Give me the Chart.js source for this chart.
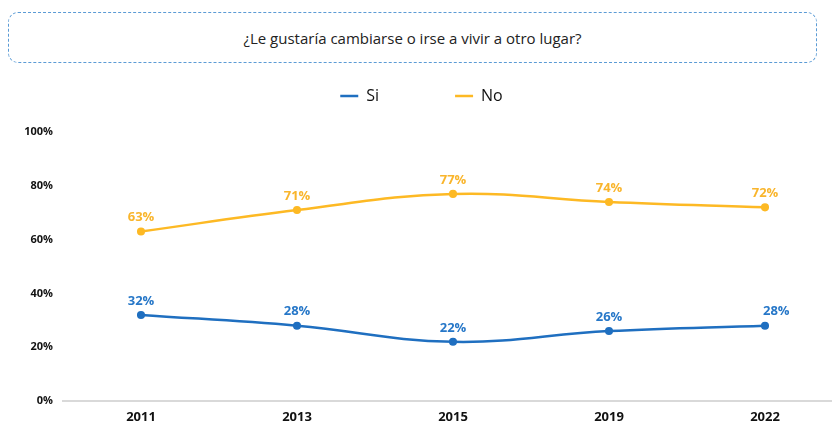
<!DOCTYPE html>
<html>
<head>
<meta charset="utf-8">
<script src="https://cdn.jsdelivr.net/npm/chart.js@4"></script>
<style>
  html, body { margin: 0; padding: 0; background: #fff; overflow: hidden; }
  #wrap { position: relative; width: 832px; height: 424px; overflow: hidden; }
  #box {
    position: absolute; left: 8px; top: 12px; width: 809px; height: 51px;
    border: 1.5px dashed #5b9bd5; border-radius: 10px; box-sizing: border-box;
    display: flex; align-items: center; justify-content: center;
    font-family: "Open Sans", sans-serif; font-size: 15px; color: #222;
  }
  #holder { position: absolute; left: 0; top: 0; width: 850px; height: 424px; }
</style>
</head>
<body>
<div id="wrap">
  <div id="box">¿Le gustaría cambiarse o irse a vivir a otro lugar?</div>
  <div id="holder"><canvas id="myChart"></canvas></div>
</div>
<script>
let years = ["2011", "2013", "2015", "2019", "2022"];
let siValues = [32, 28, 22, 26, 28];
let noValues = [63, 71, 77, 74, 72];
let yTicks = [0, 20, 40, 60, 80, 100];

let blue = "#1f6fc0";
let orange = "#fdb924";

// draws the % labels over each point
let pointLabels = {
  id: "pointLabels",
  afterDatasetsDraw(chart) {
    let ctx = chart.ctx;
    ctx.save();
    ctx.font = "bold 13px 'Open Sans', sans-serif";
    ctx.textBaseline = "middle";
    chart.data.datasets.forEach((ds, i) => {
      let meta = chart.getDatasetMeta(i);
      meta.data.forEach((pt, j) => {
        let last = j == meta.data.length - 1 && i == 0;
        ctx.textAlign = last ? "left" : "center";
        ctx.fillStyle = ds.labelColor;
        ctx.fillText(ds.data[j] + "%", last ? pt.x - 2 : pt.x, pt.y - 14);
      });
    });
    ctx.restore();
  },
};

let myChart = document.getElementById("myChart").getContext("2d");

let indiceChart = new Chart(myChart, {
  type: "line",
  data: {
    labels: years,
    datasets: [
      {
        label: "Si",
        data: siValues,
        borderColor: blue,
        backgroundColor: blue,
        labelColor: "#2677c8",
        borderWidth: 2.5,
        pointRadius: 2.8,
        tension: 0.4,
      },
      {
        label: "No",
        data: noValues,
        borderColor: orange,
        backgroundColor: orange,
        labelColor: "#f9b52c",
        borderWidth: 2.5,
        pointRadius: 2.8,
        tension: 0.4,
      },
    ],
  },
  options: {
    responsive: true,
    maintainAspectRatio: false,
    animation: false,
    layout: { padding: { top: 12, right: 7, left: 0, bottom: 0 } },
    plugins: {
      tooltip: { enabled: false },
      legend: {
        position: "top",
        labels: {
          usePointStyle: true,
          pointStyle: "line",
          pointStyleWidth: 18,
          boxHeight: 3,
          padding: 76,
          color: "#111",
          font: { family: "'Open Sans', sans-serif", size: 16 },
        },
      },
    },
    scales: {
      x: {
        offset: true,
        grid: { display: false, drawTicks: false },
        border: { color: "#d9d9d9", width: 2 },
        ticks: {
          color: "#111",
          padding: 8,
          font: { family: "'Open Sans', sans-serif", size: 13, weight: "bold" },
        },
        afterFit: (s) => { s.height = 23; },
      },
      y: {
        min: 0,
        max: 106.7,
        afterBuildTicks: (s) => { s.ticks = yTicks.map((v) => ({ value: v })); },
        grid: { display: false, drawTicks: false },
        border: { display: false },
        ticks: {
          color: "#111",
          padding: 10,
          callback: (v) => v + "%",
          font: { family: "'Open Sans', sans-serif", size: 11, weight: "bold" },
        },
        afterFit: (s) => { s.width = 63; },
      },
    },
  },
  plugins: [pointLabels],
});
</script>
</body>
</html>
